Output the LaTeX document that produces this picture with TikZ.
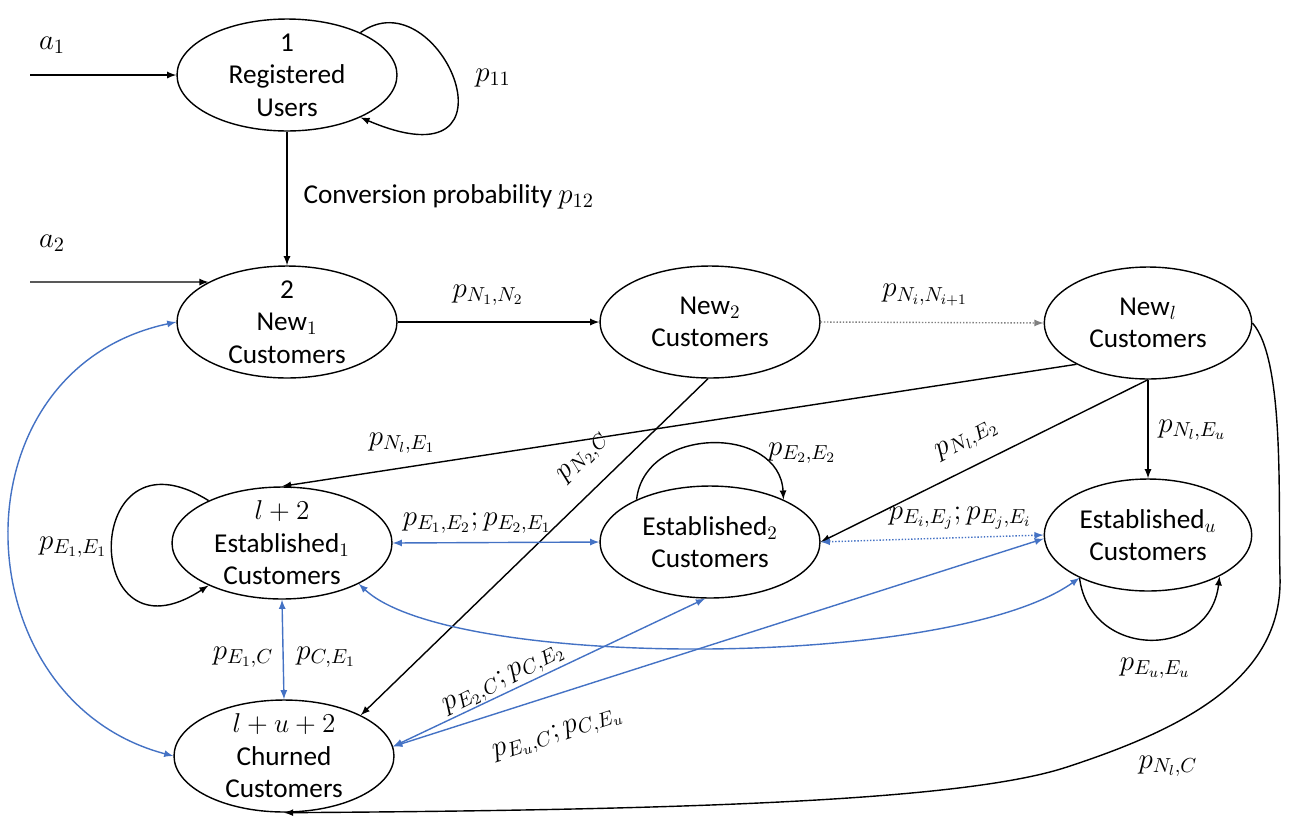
\RequirePackage{fix-cm}
\documentclass[tikz,border=0pt]{standalone}
\usepackage{fontspec}
\setmainfont{Carlito}
\usetikzlibrary{shapes.geometric}
\definecolor{flowblue}{RGB}{68,114,196}

\begin{document}
\begin{tikzpicture}[x=0.02cm, y=-0.02cm, >=latex, line width=0.8pt,
    font=\fontsize{15.5}{18.5}\selectfont,
    state/.style={draw, ellipse, align=center, minimum width=4.4cm,
      minimum height=2.24cm, inner xsep=0pt, inner ysep=-4pt},
    narrow/.style={minimum width=4.15cm},
    prob/.style={font=\fontsize{16.5}{19}\selectfont},
    flow/.style={->},
    bidir/.style={<->, flowblue}]
  \useasboundingbox (0,0) rectangle (1295,819);

  % states
  \node[state] (reg)   at (287,75)  {1\\Registered\\Users};
  \node[state] (new1)  at (287,322) {2\\New$_1$\\Customers};
  \node[state] (new2)  at (710,322) {New$_2$\\Customers};
  \node[state, narrow] (newl) at (1148,323) {New$_l$\\Customers};
  \node[state] (est1)  at (282,543) {$l+2$\\Established$_1$\\Customers};
  \node[state] (est2)  at (710,542) {Established$_2$\\Customers};
  \node[state, narrow] (estu) at (1148,535) {Established$_u$\\Customers};
  \node[state] (churn) at (284,756) {$l+u+2$\\Churned\\Customers};

  \coordinate (in1) at (30,75);
  \coordinate (in2) at (30,282);

  % black transitions
  \draw[flow] (in1) -- (reg.west);
  \draw[flow] (in2) -- (new1.153);
  \draw[flow] (reg.30) .. controls (440,-25) and (530,190) .. (reg.-30);
  \draw[flow] (reg.south) -- (new1.north);
  \draw[flow] (new1.east) -- (new2.west);
  \draw[flow, gray, densely dotted] (new2.east) -- (newl.west);
  \draw[flow] (newl.210) -- (est1.north);
  \draw[flow] (new2.-92) -- (churn.28);
  \draw[flow] (newl.south) -- (est2.east);
  \draw[flow] (newl.south) -- (estu.north);
  \draw[flow] (newl.east) .. controls (1285,360) and (1278,500) .. (1280,577)
    .. controls (1283,680) and (1180,730) .. (1067,767)
    .. controls (967,800) and (700,810) .. (churn.south);
  \draw[flow] (est1.150) .. controls (80,420) and (80,670) .. (est1.-150);
  \draw[flow] (est2.150) .. controls (645,425) and (780,425) .. (est2.30);
  \draw[flow] (estu.-148) .. controls (1090,660) and (1210,660) .. (estu.-30);

  % blue two-way transitions
  \draw[bidir] (est1.east) -- (est2.west);
  \draw[bidir, densely dotted] (est2.east) -- (estu.west);
  \draw[bidir] (est1.south) -- (churn.north);
  \draw[bidir] (new1.west) .. controls (-50,370) and (-40,700) .. (churn.west);
  \draw[bidir] (est1.-28) .. controls (450,670) and (950,670) .. (estu.-148);
  \draw[bidir] (churn.5) -- (est2.-95);
  \draw[bidir] (churn.5) -- (estu.182);

  % labels
  \node[prob] (la1) at (52,45) {$a_1$};
  \node[prob] (la2) at (52,243) {$a_2$};
  \node[prob] (lp11) at (493,78) {$p_{11}$};
  \node[anchor=west] (lconv) at (297,197) {Conversion probability \textnormal{\fontsize{16.5}{19}\selectfont$p_{12}$}};
  \node[prob] (lpn12) at (488,295) {$p_{N_1,N_2}$};
  \node[prob] (lpnn) at (925,295) {$p_{N_i,N_{i+1}}$};
  \node[prob] (lpne1) at (402,443) {$p_{N_l,E_1}$};
  \node[prob, rotate=46] (lpn2c) at (584,458) {$p_{N_2,C}$};
  \node[prob, rotate=28] (lpne2) at (967,440) {$p_{N_l,E_2}$};
  \node[prob] (lpneu) at (1192,430) {$p_{N_l,E_u}$};
  \node[prob] (lpe11) at (73,547) {$p_{E_1,E_1}$};
  \node[prob] (lpe12) at (477,523) {$p_{E_1,E_2};p_{E_2,E_1}$};
  \node[prob] (lpe22) at (802,453) {$p_{E_2,E_2}$};
  \node[prob] (lpeij) at (960,518) {$p_{E_i,E_j};p_{E_j,E_i}$};
  \node[prob] (lpeuu) at (1155,668) {$p_{E_u,E_u}$};
  \node[prob] (lpe1c) at (243,657) {$p_{E_1,C}$};
  \node[prob] (lpce1) at (326,657) {$p_{C,E_1}$};
  \node[prob, rotate=27] (lpe2c) at (504,680) {$p_{E_2,C};p_{C,E_2}$};
  \node[prob, rotate=18] (lpeuc) at (558,735) {$p_{E_u,C};p_{C,E_u}$};
  \node[prob] (lpnc) at (1168,766) {$p_{N_l,C}$};
\end{tikzpicture}
\end{document}
